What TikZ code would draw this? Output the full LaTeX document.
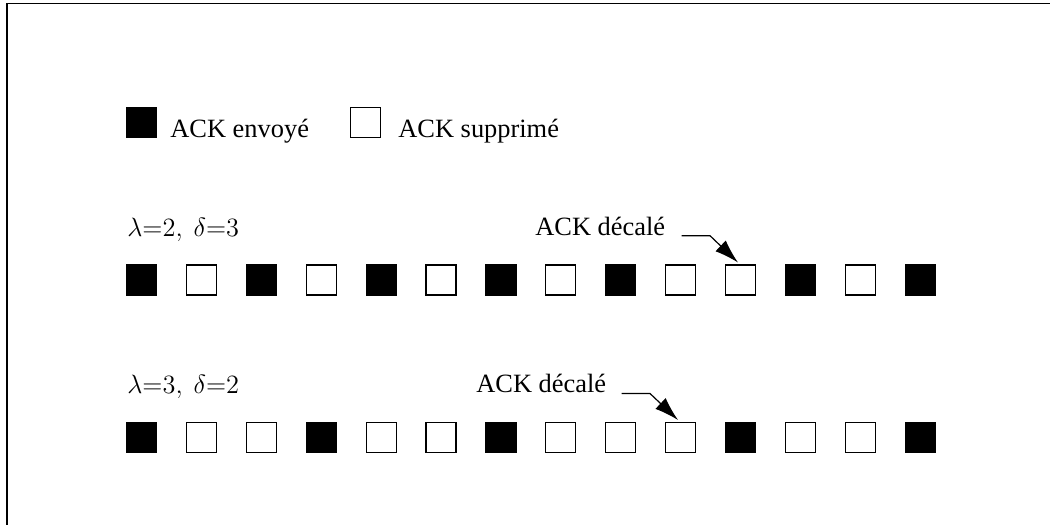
\documentclass[tikz,border=0pt]{standalone}
\usepackage{fontspec}
\setmainfont{Liberation Serif}
\usetikzlibrary{arrows.meta}
% math labels are set at 12pt and scaled to the 13.2pt text size
\newcommand{\paramlabel}[1]{\scalebox{1.1}{\fontsize{12}{14}\selectfont$#1$}}
\begin{document}
\begin{tikzpicture}[x=0.5pt,y=-0.5pt,
  ack/.style={draw=black,line width=0.6pt,minimum size=15pt,inner sep=0pt,outer sep=0pt},
  sent/.style={ack,fill=black},
  dropped/.style={ack,fill=white},
  lbl/.style={anchor=base west,inner sep=0pt,font=\fontsize{13.2}{16}\selectfont},
  shiftarrow/.style={line width=0.6pt,-{Latex[length=12pt,width=7.5pt]}}]
\useasboundingbox (0,0) rectangle (1050,525);
% frame edges
\coordinate (fbl) at (7,525);
\coordinate (ftl) at (7,3.5);
\coordinate (ftr) at (1050,3.5);
\draw[line width=0.8pt] (fbl) -- (ftl) -- (ftr);
% legend
\node[sent] (legS) at (141.3,122.5) {};
\node[lbl] (legSt) at (170,137) {ACK envoyé};
\node[dropped] (legD) at (365.3,122.5) {};
\node[lbl] (legDt) at (398,137) {ACK supprimé};
% first row: lambda=2, delta=3
\node[lbl] (ra) at (127,236) {\paramlabel{\lambda{=}2,\ \delta{=}3}};
\foreach \t [count=\i from 0] in {sent,dropped,sent,dropped,sent,dropped,sent,dropped,sent,dropped,dropped,sent,dropped,sent}
  \node[\t] (a\i) at ({141.5+59.9*\i},280) {};
\node[lbl] (sa) at (535,235) {ACK décalé};
\coordinate (sa1) at (681.7,235.7);
\coordinate (sa2) at (710,235.7);
\coordinate (ta) at (738,262.5);
\draw[shiftarrow] (sa1) -- (sa2) -- (ta);
% second row: lambda=3, delta=2
\node[lbl] (rb) at (127,393) {\paramlabel{\lambda{=}3,\ \delta{=}2}};
\foreach \t [count=\i from 0] in {sent,dropped,dropped,sent,dropped,dropped,sent,dropped,dropped,dropped,sent,dropped,dropped,sent}
  \node[\t] (b\i) at ({141.5+59.9*\i},437.5) {};
\node[lbl] (sb) at (476,392) {ACK décalé};
\coordinate (sb1) at (621.7,393.5);
\coordinate (sb2) at (650,393.5);
\coordinate (tb) at (678,420);
\draw[shiftarrow] (sb1) -- (sb2) -- (tb);
\end{tikzpicture}
\end{document}
